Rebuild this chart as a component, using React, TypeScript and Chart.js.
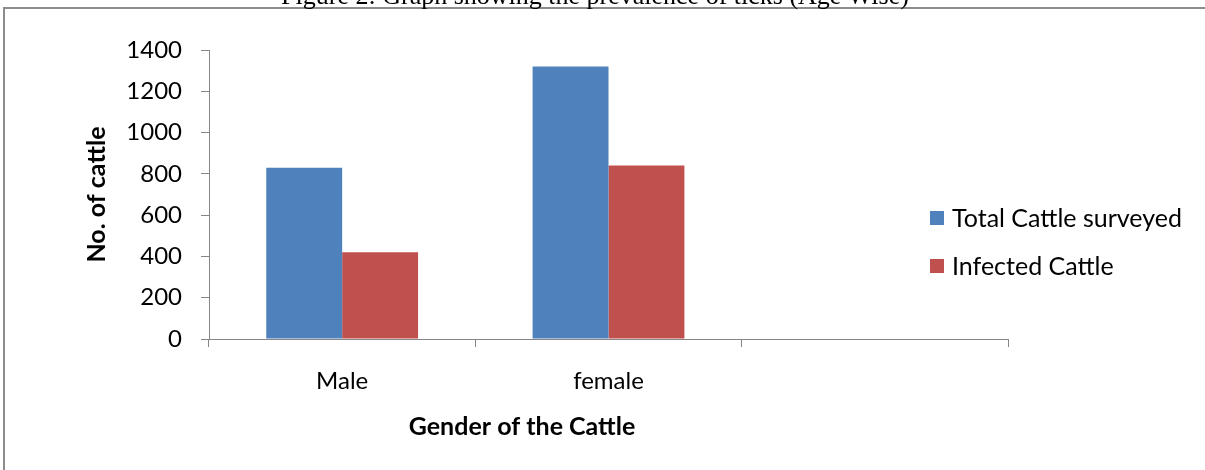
import React, { useEffect, useRef } from "react";
import { Chart, registerables } from "chart.js";

Chart.register(...registerables);

const chartTitle = "Figure 2: Graph showing the prevalence of ticks (Age Wise)";
const categories = ["Male", "female", ""];
const seriesNames = ["Total Cattle surveyed", "Infected Cattle"];
const totalSurveyed = [830, 1320, null];
const infectedCattle = [420, 840, null];
const seriesColors = ["#4F81BD", "#C0504D"];
const yAxisTitle = "No. of cattle";
const xAxisTitle = "Gender of the Cattle";
const yMin = 0;
const yMax = 1400;
const yStep = 200;

const FONT = "Lato";
const AXIS_GRAY = "#868686";

const decorPlugin = {
  id: "decor",
  beforeDraw(chart: any) {
    const ctx = chart.ctx;
    ctx.save();
    ctx.fillStyle = "#ffffff";
    ctx.fillRect(0, 0, chart.width, chart.height);
    ctx.strokeStyle = "#8c8c8c";
    ctx.lineWidth = 2;
    ctx.beginPath();
    ctx.moveTo(4, chart.height);
    ctx.lineTo(4, 8);
    ctx.lineTo(chart.width, 8);
    ctx.stroke();
    ctx.fillStyle = "#000000";
    ctx.font = '26px "Liberation Serif"';
    ctx.textAlign = "center";
    ctx.textBaseline = "alphabetic";
    ctx.fillText(chartTitle, 595, 3.5);
    ctx.restore();
  },
  afterDraw(chart: any) {
    const ctx = chart.ctx;
    const area = chart.chartArea;
    ctx.save();
    ctx.fillStyle = "#000000";
    ctx.font = `bold 25px ${FONT}`;
    ctx.textAlign = "center";
    ctx.textBaseline = "middle";
    ctx.fillText(xAxisTitle, area.left + 313, area.bottom + 88);
    // legend
    const lx = area.right - 78;
    const ly = area.top + 168;
    ctx.font = `25px ${FONT}`;
    ctx.textAlign = "left";
    chart.data.datasets.forEach((ds: any, i: number) => {
      const cy = ly + i * 48;
      ctx.fillStyle = ds.backgroundColor;
      ctx.fillRect(lx, cy - 7, 14, 14);
      ctx.fillStyle = "#000000";
      ctx.fillText(ds.label, lx + 22, cy + 1);
    });
    ctx.restore();
  },
};

export default function App() {
  const canvasRef = useRef<HTMLCanvasElement | null>(null);

  useEffect(() => {
    if (!canvasRef.current) return;
    const chart = new Chart(canvasRef.current, {
      type: "bar",
      data: {
        labels: categories,
        datasets: [
          {
            label: seriesNames[0],
            data: totalSurveyed,
            backgroundColor: seriesColors[0],
            borderWidth: 0,
          },
          {
            label: seriesNames[1],
            data: infectedCattle,
            backgroundColor: seriesColors[1],
            borderWidth: 0,
          },
        ],
      },
      options: {
        responsive: false,
        animation: false,
        events: [],
        layout: { padding: { top: 50, right: 197, bottom: 0, left: 82 } },
        datasets: {
          bar: { barPercentage: 1, categoryPercentage: 0.57 },
        },
        plugins: {
          legend: { display: false },
          title: { display: false },
          tooltip: { enabled: false },
        },
        scales: {
          x: {
            offset: true,
            grid: {
              offset: true,
              drawOnChartArea: false,
              drawTicks: true,
              tickLength: 8,
              color: AXIS_GRAY,
            },
            border: { color: AXIS_GRAY, width: 1 },
            ticks: {
              color: "#000000",
              font: { family: FONT, size: 24 },
              padding: 20,
            },
            afterFit(scale: any) {
              scale.height = 131;
            },
          },
          y: {
            min: yMin,
            max: yMax,
            grid: {
              drawOnChartArea: false,
              drawTicks: true,
              tickLength: 8,
              color: AXIS_GRAY,
            },
            border: { color: AXIS_GRAY, width: 1 },
            ticks: {
              stepSize: yStep,
              color: "#000000",
              font: { family: FONT, size: 24 },
              padding: 19,
              callback: (v: any) => String(v),
            },
            title: {
              display: true,
              text: yAxisTitle,
              color: "#000000",
              font: { family: FONT, size: 25, weight: "bold" },
              padding: 0,
            },
            afterFit(scale: any) {
              scale.width = 127;
            },
          },
        },
      },
      plugins: [decorPlugin],
    });
    return () => chart.destroy();
  }, []);

  return (
    <div style={{ position: "fixed", left: 0, top: 0, width: 1205, height: 470 }}>
      <canvas ref={canvasRef} width={1205} height={470} style={{ display: "block" }} />
    </div>
  );
}
